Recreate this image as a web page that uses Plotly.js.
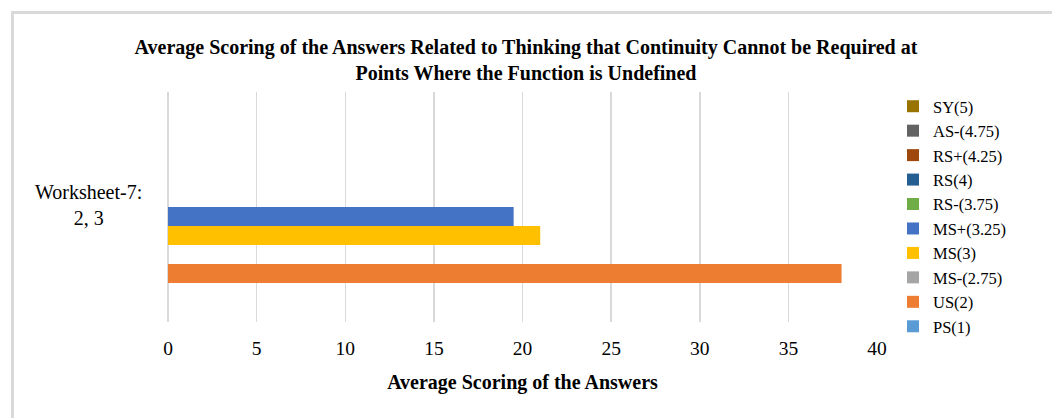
<!DOCTYPE html>
<html>
<head>
<meta charset="utf-8">
<script src="https://cdn.plot.ly/plotly-3.0.1.min.js"></script>
<style>
  html, body { margin: 0; padding: 0; background: #ffffff; }
  #frame { position: absolute; left: 11px; top: 11px; width: 1100px; height: 500px;
           border-top: 3px solid #d9d9d9; border-left: 3px solid #d9d9d9; }
  #chart { position: absolute; left: 0; top: 0; width: 1052px; height: 418px; }
</style>
</head>
<body>
<div id="frame"></div>
<div id="chart"></div>
<script>
// ---- data ----
const categories = ["Worksheet-7:<br>2, 3"];
const seriesNames = ["PS(1)", "US(2)", "MS-(2.75)", "MS(3)", "MS+(3.25)", "RS-(3.75)", "RS(4)", "RS+(4.25)", "AS-(4.75)", "SY(5)"];
const seriesValues = [
  [null],  // PS(1)
  [38],    // US(2)
  [null],  // MS-(2.75)
  [21],    // MS(3)
  [19.5],  // MS+(3.25)
  [null],  // RS-(3.75)
  [null],  // RS(4)
  [null],  // RS+(4.25)
  [null],  // AS-(4.75)
  [null]   // SY(5)
];
const seriesColors = ["#5b9bd5", "#ed7d31", "#a5a5a5", "#ffc000", "#4472c4", "#70ad47", "#255e91", "#9e480e", "#636363", "#997300"];
const xTickValues = [0, 5, 10, 15, 20, 25, 30, 35, 40];

const serif = "'Liberation Serif', 'Times New Roman', serif";

const traces = seriesNames.map((name, i) => ({
  type: "bar",
  orientation: "h",
  name: name,
  y: categories,
  x: seriesValues[i],
  marker: { color: seriesColors[i], line: { width: 0 } },
  hoverinfo: "x+name"
}));

const layout = {
  width: 1052,
  height: 418,
  paper_bgcolor: "rgba(0,0,0,0)",
  plot_bgcolor: "rgba(0,0,0,0)",
  margin: { l: 168, r: 175, t: 92, b: 96 },
  barmode: "group",
  bargap: 0.174,
  bargroupgap: 0,
  font: { family: serif, color: "#000000" },
  title: {
    text: "<b>Average Scoring of the Answers Related to Thinking that Continuity Cannot be Required at<br>Points Where the Function is Undefined</b>",
    font: { family: serif, size: 20, color: "#000000" },
    x: 0.5, xanchor: "center", xref: "container",
    y: 1 - 54 / 418, yanchor: "top", yref: "container"
  },
  xaxis: {
    range: [0, 40],
    tickvals: xTickValues,
    ticktext: xTickValues.map(String),
    showgrid: true,
    gridcolor: "#d9d9d9",
    gridwidth: 1.5,
    zeroline: true,
    zerolinecolor: "#d9d9d9",
    zerolinewidth: 1.5,
    showline: false,
    ticks: "",
    ticklabelstandoff: 12,
    tickfont: { family: serif, size: 19.5, color: "#000000" },
    title: {
      text: "<b>Average Scoring of the Answers</b>",
      font: { family: serif, size: 20, color: "#000000" },
      standoff: 17
    },
    fixedrange: true
  },
  yaxis: {
    type: "category",
    range: [-0.5, 0.5],
    showticklabels: false,
    showgrid: false,
    zeroline: false,
    showline: false,
    ticks: "",
    fixedrange: true
  },
  legend: {
    x: (893 - 168) / 709,
    xanchor: "left",
    y: 1 - (89 - 92) / 230,
    yanchor: "top",
    traceorder: "reversed",
    font: { family: serif, size: 16.5, color: "#000000" },
    bgcolor: "rgba(0,0,0,0)",
    maxheight: 1,
    itemclick: false,
    itemdoubleclick: false
  },
  annotations: categories.map(c => ({
    text: c,
    xref: "paper",
    x: (88 - 168) / 709,
    xanchor: "center",
    yref: "y",
    y: c,
    yanchor: "middle",
    yshift: 2,
    align: "center",
    showarrow: false,
    font: { family: serif, size: 20, color: "#000000" }
  })),
  showlegend: true
};

Plotly.newPlot("chart", traces, layout, { displayModeBar: false, staticPlot: true });
</script>
</body>
</html>
